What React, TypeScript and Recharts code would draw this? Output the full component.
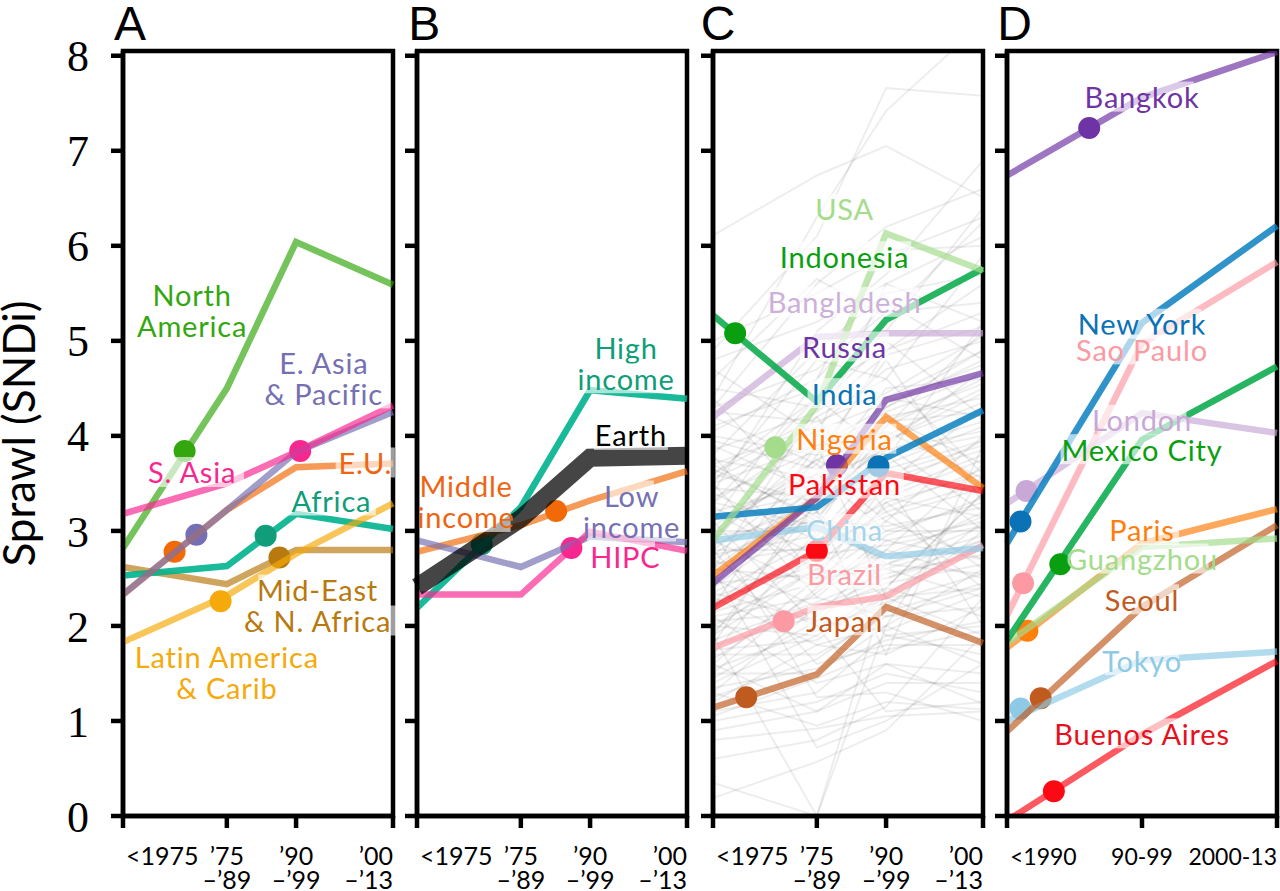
import { LineChart, Line, XAxis, YAxis, ReferenceArea, ReferenceDot } from "recharts";

// period edges on the x axis, the unequal widths are in the original
const periods = [0, 15, 25, 39];
const periodsD = [0, 1, 2];
const yTicks = [0, 1, 2, 3, 4, 5, 6, 7, 8];
const periodLabels = [["<1975"], ["’75", "–’89"], ["’90", "–’99"], ["’00", "–’13"]];
const periodLabelsD = [["<1990"], ["90-99"], ["2000-13"]];

// panel A, world regions
const northAmerica = [2.82, 4.5, 6.04, 5.59];
const sAsia = [3.18, 3.5, 3.83, 4.32];
const eAsia = [2.33, 3.22, 3.83, 4.25];
const eu = [2.33, 3.22, 3.67, 3.71];
const africa = [2.53, 2.63, 3.18, 3.02];
const midEast = [2.62, 2.44, 2.8, 2.8];
const latinAmerica = [1.83, 2.32, 2.76, 3.29];

// panel B, income groups
const highIncome = [2.19, 3.25, 4.48, 4.39];
const middleIncome = [2.78, 3.06, 3.32, 3.63];
const lowIncome = [2.9, 2.62, 2.94, 2.88];
const hipc = [2.33, 2.33, 2.99, 2.79];
const earth = [2.41, 3.13, 3.77, 3.79];

// panel C, countries
const usa = [2.9, 4.32, 6.13, 5.74];
const indonesia = [5.27, 4.36, 5.22, 5.76];
const bangladesh = [4.2, 5.04, 5.08, 5.08];
const russia = [2.45, 3.35, 4.38, 4.66];
const india = [3.15, 3.25, 3.77, 4.27];
const nigeria = [2.53, 3.35, 4.2, 3.45];
const pakistan = [2.19, 2.79, 3.61, 3.42];
const china = [2.9, 3.04, 2.73, 2.82];
const brazil = [1.77, 2.2, 2.31, 2.85];
const japan = [1.14, 1.49, 2.2, 1.82];

// panel C, the other countries behind (read by eye, approximate)
const otherCountries = [
  [4.9, 6.1, 7.66, 7.58], [6.11, 6.74, 7.05, 6.51], [4.4, 6.3, 7.42, 8.35], [4.3, 5.6, 6.2, 6.6],
  [5.0, 5.5, 5.9, 6.3], [3.4, 5.1, 5.7, 6.9], [4.8, 5.2, 5.6, 6.1], [4.6, 5.65, 5.25, 6.25],
  [3.1, 4.6, 5.95, 6.0], [3.8, 4.9, 5.5, 5.7], [4.3, 4.7, 5.3, 5.4], [3.6, 4.4, 5.1, 6.4],
  [3.3, 4.0, 5.6, 5.2], [4.1, 4.5, 4.9, 5.6], [2.9, 4.2, 4.6, 5.9], [3.7, 4.1, 4.7, 5.0],
  [4.5, 4.3, 4.4, 4.9], [3.0, 3.7, 4.9, 5.3], [3.5, 3.9, 4.3, 4.8], [2.8, 3.6, 4.5, 4.6],
  [3.2, 3.5, 4.1, 5.1], [4.0, 3.8, 4.2, 4.4], [2.6, 3.4, 4.4, 4.2], [3.6, 3.3, 3.9, 4.7],
  [2.4, 3.9, 4.0, 4.5], [3.3, 4.4, 3.8, 4.0], [2.7, 3.2, 3.7, 4.1], [3.9, 3.4, 3.6, 3.9],
  [2.2, 3.1, 4.2, 3.7], [3.0, 3.0, 3.5, 4.3], [2.5, 3.5, 3.4, 3.8], [3.4, 2.9, 3.3, 3.6],
  [1.9, 3.3, 3.9, 3.2], [2.8, 2.8, 3.2, 3.5], [3.1, 3.6, 3.0, 3.3], [2.3, 2.7, 3.6, 3.4],
  [2.0, 2.6, 3.1, 4.0], [3.7, 3.1, 2.9, 3.1], [2.6, 2.5, 3.0, 3.0], [2.9, 2.4, 2.8, 3.7],
  [1.7, 3.0, 2.7, 3.2], [2.4, 3.2, 2.6, 2.9], [2.1, 2.3, 2.9, 2.7], [3.2, 2.6, 2.5, 2.8],
  [1.5, 2.4, 3.3, 2.6], [2.7, 2.2, 2.4, 3.4], [1.8, 2.1, 2.8, 2.5], [2.2, 2.8, 2.3, 2.4],
  [2.5, 2.0, 2.2, 3.0], [1.6, 2.5, 2.6, 2.3], [3.5, 2.3, 2.1, 2.2], [1.3, 2.2, 2.5, 2.9],
  [2.0, 1.9, 2.4, 2.1], [1.9, 2.6, 1.9, 2.0], [2.3, 1.8, 2.0, 2.6], [1.4, 1.9, 2.3, 1.9],
  [1.7, 1.7, 2.1, 2.4], [2.8, 1.6, 1.8, 1.8], [1.2, 1.8, 1.7, 2.2], [1.5, 1.5, 2.0, 1.6],
  [2.1, 1.4, 1.6, 1.5], [1.1, 1.3, 1.9, 1.7], [1.0, 1.2, 1.5, 1.3], [1.6, 1.1, 1.4, 1.4],
  [0.9, 1.1, 1.6, 1.18], [1.3, 0.95, 1.2, 1.12], [0.8, 0.92, 1.05, 1.1], [0.6, 0.8, 1.15, 2.3],
  [0.19, 0.57, 0.9, 1.9], [1.9, 0.0, 2.0, 3.6], [2.6, 0.72, 1.0, 1.6], [0.35, 0.0, 2.4, 3.4],
  [3.1, 2.0, 1.1, 1.2], [3.0, 1.25, 1.3, 1.0], [4.4, 3.2, 1.7, 3.9], [3.8, 2.5, 3.5, 2.0],
  [4.2, 3.7, 3.1, 2.7], [2.9, 3.9, 2.3, 3.1], [3.6, 4.2, 3.2, 2.4], [4.7, 4.0, 3.8, 3.0],
  [2.2, 3.8, 4.8, 3.3], [3.3, 3.05, 4.1, 4.6], [1.8, 3.45, 4.3, 4.9], [2.6, 4.3, 5.0, 4.2],
  [3.5, 4.8, 4.6, 3.6], [4.05, 4.6, 5.4, 4.8], [2.75, 2.95, 3.75, 5.2], [3.05, 3.75, 4.05, 3.55],
  [2.35, 2.9, 3.45, 3.95], [2.55, 3.15, 3.85, 4.15], [2.85, 3.3, 3.55, 3.85], [3.15, 3.4, 3.95, 4.35],
  [1.95, 2.75, 3.35, 3.75], [2.25, 2.65, 3.25, 3.65], [2.65, 2.85, 3.15, 3.45], [2.95, 3.1, 3.05, 3.25],
  [1.65, 2.35, 2.95, 3.35], [2.15, 2.45, 2.75, 3.15], [2.45, 2.55, 2.65, 2.95], [3.25, 2.75, 2.85, 3.05],
  [1.45, 2.05, 2.65, 3.05], [1.85, 2.25, 2.55, 2.75], [2.05, 2.15, 2.45, 2.65], [3.45, 3.35, 3.65, 3.95],
  [3.75, 3.55, 3.85, 4.05], [3.95, 3.65, 4.15, 4.55], [3.35, 3.85, 4.25, 4.65], [3.55, 4.05, 4.35, 4.75],
  [2.75, 3.45, 4.15, 4.25], [4.25, 4.15, 4.45, 5.05], [3.85, 4.25, 4.85, 5.15], [2.45, 3.25, 3.95, 4.45],
  [1.55, 1.95, 2.25, 2.55], [1.25, 1.65, 2.15, 2.45], [1.75, 1.85, 2.35, 2.85], [2.35, 2.05, 1.95, 2.35],
  [1.35, 1.55, 1.85, 2.05], [1.05, 1.45, 1.75, 1.95], [2.95, 3.75, 3.35, 3.15], [3.65, 3.15, 2.65, 2.55],
];

// panel D, cities
const bangkok = [6.74, 7.56, 8.04];
const newYork = [2.87, 5.19, 6.21];
const saoPaulo = [2.11, 4.97, 5.83];
const london = [3.29, 4.24, 4.03];
const mexicoCity = [1.85, 3.96, 4.73];
const paris = [1.77, 2.87, 3.23];
const guangzhou = [1.82, 2.83, 2.92];
const seoul = [0.89, 2.2, 3.06];
const tokyo = [1.0, 1.64, 1.73];
const buenosAires = [-0.05, 0.86, 1.63];

const SANS = "Lato, sans-serif";

type Series = {
  name: string; values: number[]; color: string; line?: string; at?: [number, number];
  width?: number; opacity?: number; dotOnTop?: boolean;
};
type Tag = { lines: string[]; x: number; y: number; color: string };
type Panel = {
  left: number; letter: string; letterDx?: number; xs: number[]; xLabels: string[][]; xFont: number; series: Series[]; tags: Tag[];
  anchors: string[]; background?: number[][]; yLabels?: boolean;
};

const TEAL_LINE = "#00b28f";
const GREEN_LINE = "#10ad50";
const BLUE_LINE = "#0a80c0";

const panelA: Panel = {
  left: 123, letter: "A", xs: periods, xLabels: periodLabels, xFont: 25, anchors: ["start", "middle", "middle", "end"], yLabels: true,
  series: [
    { name: "North America", values: northAmerica, color: "#33a70e", at: [8.9, 3.84] },
    { name: "Mid-East", values: midEast, color: "#b8790f", at: [22.6, 2.72] },
    { name: "Africa", values: africa, color: "#0f9d7a", line: TEAL_LINE, opacity: 0.9, at: [20.6, 2.95], dotOnTop: true },
    { name: "E.U.", values: eu, color: "#f26a07", at: [7.45, 2.78] },
    { name: "E. Asia", values: eAsia, color: "#7570b3", at: [10.6, 2.96] },
    { name: "S. Asia", values: sAsia, color: "#f8278f", at: [25.6, 3.84] },
    { name: "Latin America", values: latinAmerica, color: "#f5a90b", at: [14.1, 2.26] },
  ],
  tags: [
    { lines: ["North", "America"], x: 9.98, y: 5.32, color: "#33a70e" },
    { lines: ["E. Asia", "& Pacific"], x: 29, y: 4.61, color: "#7570b3" },
    { lines: ["S. Asia"], x: 9.98, y: 3.62, color: "#f8278f" },
    { lines: ["E.U."], x: 35, y: 3.72, color: "#ee6413" },
    { lines: ["Africa"], x: 30.1, y: 3.32, color: "#0f9d7a" },
    { lines: ["Mid-East", "& N. Africa"], x: 28.1, y: 2.22, color: "#b8790f" },
    { lines: ["Latin America", "& Carib"], x: 15, y: 1.52, color: "#f5a90b" },
  ],
};

const panelB: Panel = {
  left: 417.3, letter: "B", xs: periods, xLabels: periodLabels, xFont: 25, anchors: ["start", "middle", "middle", "end"],
  series: [
    { name: "High income", values: highIncome, color: "#0f9d7a", line: TEAL_LINE, opacity: 0.9, at: [9.35, 2.86] },
    { name: "Middle income", values: middleIncome, color: "#f26a07", at: [20.1, 3.21] },
    { name: "Low income", values: lowIncome, color: "#7570b3" },
    { name: "HIPC", values: hipc, color: "#f8278f", at: [22.3, 2.82] },
    { name: "Earth", values: earth, color: "#000000", width: 18, opacity: 0.73 },
  ],
  tags: [
    { lines: ["High", "income"], x: 30.2, y: 4.77, color: "#0f9d7a" },
    { lines: ["Earth"], x: 30.9, y: 4.01, color: "#000000" },
    { lines: ["Middle", "income"], x: 7.1, y: 3.31, color: "#ee6413" },
    { lines: ["Low", "income"], x: 31, y: 3.21, color: "#7570b3" },
    { lines: ["HIPC"], x: 30.1, y: 2.73, color: "#f8278f" },
  ],
};

const panelC: Panel = {
  left: 712.7, letter: "C", letterDx: -3, xs: periods, xLabels: periodLabels, xFont: 25, anchors: ["start", "middle", "middle", "end"],
  background: otherCountries,
  series: [
    { name: "Japan", values: japan, color: "#bf5b1f", at: [4.8, 1.25] },
    { name: "Brazil", values: brazil, color: "#fc9aa3", at: [10.2, 2.05] },
    { name: "China", values: china, color: "#8ecae6" },
    { name: "Nigeria", values: nigeria, color: "#ff7f0e" },
    { name: "Russia", values: russia, color: "#6f34a4", at: [17.9, 3.69] },
    { name: "Pakistan", values: pakistan, color: "#fb0a14", at: [15, 2.79] },
    { name: "India", values: india, color: "#0a72b5", line: BLUE_LINE, opacity: 0.85, at: [23.9, 3.68], dotOnTop: true },
    { name: "Bangladesh", values: bangladesh, color: "#c8a8d6" },
    { name: "Indonesia", values: indonesia, color: "#0a9f10", line: GREEN_LINE, opacity: 0.9, at: [3.2, 5.08], dotOnTop: true },
    { name: "USA", values: usa, color: "#a4dc8c", at: [9, 3.88] },
  ],
  tags: [
    { lines: ["USA"], x: 19, y: 6.39, color: "#a4dc8c" },
    { lines: ["Indonesia"], x: 19, y: 5.89, color: "#0a9f10" },
    { lines: ["Bangladesh"], x: 19, y: 5.41, color: "#cdb0d9" },
    { lines: ["Russia"], x: 19, y: 4.94, color: "#6f34a4" },
    { lines: ["India"], x: 19, y: 4.45, color: "#0a72b5" },
    { lines: ["Nigeria"], x: 19, y: 3.97, color: "#ff7f0e" },
    { lines: ["Pakistan"], x: 19, y: 3.5, color: "#fb0a14" },
    { lines: ["China"], x: 19, y: 3.02, color: "#a5d5ea" },
    { lines: ["Brazil"], x: 19, y: 2.55, color: "#fc9aa3" },
    { lines: ["Japan"], x: 19, y: 2.06, color: "#bf5b1f" },
  ],
};

const panelD: Panel = {
  left: 1007.3, letter: "D", letterDx: -1, xs: periodsD, xLabels: periodLabelsD, xFont: 23, anchors: ["start", "middle", "end"],
  series: [
    { name: "Bangkok", values: bangkok, color: "#6f34a4", at: [0.609, 7.24] },
    { name: "Buenos Aires", values: buenosAires, color: "#fb0a14", at: [0.347, 0.26] },
    { name: "Tokyo", values: tokyo, color: "#8ecae6", at: [0.1, 1.13] },
    { name: "Seoul", values: seoul, color: "#bf5b1f", at: [0.25, 1.24] },
    { name: "Paris", values: paris, color: "#ff7f0e", at: [0.151, 1.95] },
    { name: "Guangzhou", values: guangzhou, color: "#a4dc8c" },
    { name: "Sao Paulo", values: saoPaulo, color: "#fc9aa3", at: [0.119, 2.45] },
    { name: "Mexico City", values: mexicoCity, color: "#0a9f10", line: GREEN_LINE, opacity: 0.9, at: [0.395, 2.65], dotOnTop: true },
    { name: "London", values: london, color: "#c8a8d6", at: [0.144, 3.42] },
    { name: "New York", values: newYork, color: "#0a72b5", line: BLUE_LINE, opacity: 0.85, at: [0.1, 3.1], dotOnTop: true },
  ],
  tags: [
    { lines: ["Bangkok"], x: 1, y: 7.57, color: "#6f34a4" },
    { lines: ["New York"], x: 1, y: 5.18, color: "#0a72b5" },
    { lines: ["Sao Paulo"], x: 1, y: 4.91, color: "#fc9aa3" },
    { lines: ["London"], x: 1, y: 4.17, color: "#c8a8d6" },
    { lines: ["Mexico City"], x: 1, y: 3.86, color: "#0a9f10" },
    { lines: ["Paris"], x: 1, y: 3.01, color: "#ff7f0e" },
    { lines: ["Guangzhou"], x: 1, y: 2.71, color: "#a4dc8c" },
    { lines: ["Seoul"], x: 1, y: 2.28, color: "#bf5b1f" },
    { lines: ["Tokyo"], x: 1, y: 1.64, color: "#8ecae6" },
    { lines: ["Buenos Aires"], x: 1, y: 0.87, color: "#e8101c" },
  ],
};

const panels = [panelA, panelB, panelC, panelD];

const toPoints = (xs: number[], ys: number[]) => xs.map((x, i) => ({ x, y: ys[i] }));

// zero length line with a round cap, so a marker stays in the same layer as the lines
function markerLine(s: Series, suffix: string) {
  const [x, y] = s.at as [number, number];
  return (
    <Line key={s.name + suffix} data={[{ x, y }, { x, y }]} dataKey="y" stroke={s.color} strokeWidth={22}
      strokeLinecap="round" dot={false} isAnimationActive={false} />
  );
}

function TagText({ cx, cy, tag }: { cx: number; cy: number; tag: Tag }) {
  const lineGap = 31;
  return (
    <g>
      {tag.lines.map((t, i) => {
        const y = cy + (i - (tag.lines.length - 1) / 2) * lineGap;
        const w = t.length * 14.8;
        return (
          <g key={t}>
            <rect x={cx - w / 2} y={y - 15} width={w} height={30} fill="#fff" fillOpacity={0.62} />
            <text x={cx} y={y} textAnchor="middle" dominantBaseline="central" fontFamily={SANS} fontSize={29}
              letterSpacing={0.8} fill={tag.color}>
              {t}
            </text>
          </g>
        );
      })}
    </g>
  );
}

function PanelChart({ panel }: { panel: Panel }) {
  const axisW = panel.yLabels ? 123 : 40;
  const chartLeft = panel.left - axisW;
  const maxX = panel.xs[panel.xs.length - 1];
  const lineStyle = { stroke: "#000", strokeWidth: 4.5 };

  const xTick = ({ x, y, index }: any) => (
    <g>
      {panel.xLabels[index].map((t, i) => (
        <text key={t} x={index === 0 ? x + 3 : x} y={y + 35 + i * 24} textAnchor={panel.anchors[index] as any}
          fontFamily={SANS} fontSize={panel.xFont} fill="#000">
          {t}
        </text>
      ))}
    </g>
  );

  return (
    <div style={{ position: "absolute", left: chartLeft, top: 0 }}>
      <LineChart width={axisW + 270 + 4} height={891} margin={{ top: 51, right: 4, bottom: 0, left: 0 }}>
        <XAxis dataKey="x" type="number" domain={[0, maxX]} ticks={panel.xs} interval={0} height={75}
          axisLine={lineStyle} tickLine={lineStyle} tickSize={12} tick={xTick} />
        <YAxis type="number" domain={[0, 8.05]} ticks={yTicks} interval={0} width={axisW} allowDataOverflow
          axisLine={lineStyle} tickLine={lineStyle} tickSize={12} tickMargin={panel.yLabels ? 22 : 10}
          tick={panel.yLabels ? { fontFamily: "Liberation Serif", fontSize: 44, fill: "#000" } : undefined}
          tickFormatter={panel.yLabels ? undefined : () => ""}
          label={panel.yLabels ? { value: "Sprawl (SNDi)", angle: -90, position: "insideLeft", dx: 14, fontFamily: SANS, fontSize: 44, fill: "#000", style: { textAnchor: "middle" } } : undefined}
        />
        {(panel.background ?? []).map((row, i) => (
          <Line key={"bg" + i} data={toPoints(panel.xs, row)} dataKey="y" stroke="#000" strokeOpacity={0.07} strokeWidth={2}
            dot={false} isAnimationActive={false} />
        ))}
        {panel.series.filter((s) => s.at && !s.dotOnTop).map((s) => markerLine(s, " marker"))}
        {panel.series.map((s) => (
          <Line key={s.name} name={s.name} data={toPoints(panel.xs, s.values)} dataKey="y" stroke={s.line ?? s.color}
            strokeOpacity={s.opacity ?? 0.68} strokeWidth={s.width ?? 6.5} dot={false} isAnimationActive={false} />
        ))}
        {panel.series.filter((s) => s.at && s.dotOnTop).map((s) => markerLine(s, " marker"))}
        {panel.tags.map((tag) => (
          <ReferenceDot key={tag.lines[0]} x={tag.x} y={tag.y} r={0} ifOverflow="visible"
            shape={(p: any) => <TagText cx={p.cx} cy={p.cy} tag={tag} />} />
        ))}
        <ReferenceArea x1={0} x2={maxX} y1={0} y2={8.05} fill="none" stroke="#000" strokeWidth={4.5} fillOpacity={0} strokeOpacity={1} />
      </LineChart>
      <div style={{ position: "absolute", left: axisW - 9 + (panel.letterDx ?? 0), top: -4, fontFamily: "Liberation Sans", fontSize: 48, color: "#000", lineHeight: "56px" }}>
        {panel.letter}
      </div>
    </div>
  );
}

export default function App() {
  return (
    <div style={{ position: "absolute", left: 0, top: 0, width: 1280, height: 891, overflow: "hidden", background: "#fff" }}>
      {panels.map((p) => (
        <PanelChart key={p.letter} panel={p} />
      ))}
    </div>
  );
}
